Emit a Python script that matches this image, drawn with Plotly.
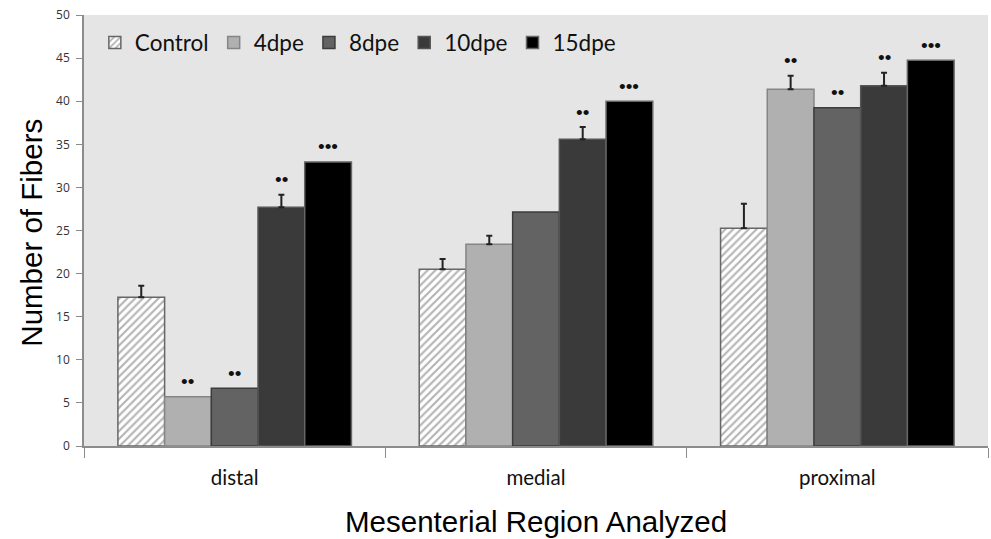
import plotly.graph_objects as go

# ---- data ----
regions = ["distal", "medial", "proximal"]
series_names = ["Control", "4dpe", "8dpe", "10dpe", "15dpe"]

control = [17.25, 20.5, 25.25]
dpe4 = [5.7, 23.4, 41.4]
dpe8 = [6.7, 27.15, 39.25]
dpe10 = [27.7, 35.6, 41.8]
dpe15 = [32.95, 40.0, 44.75]

control_err = [1.35, 1.2, 2.85]
dpe4_err = [None, 1.0, 1.55]
dpe8_err = [None, None, None]
dpe10_err = [1.45, 1.4, 1.5]
dpe15_err = [None, None, None]

control_sig = ["", "", ""]
dpe4_sig = ["**", "", "**"]
dpe8_sig = ["**", "", "**"]
dpe10_sig = ["**", "**", "**"]
dpe15_sig = ["***", "***", "***"]

y_ticks = [0, 5, 10, 15, 20, 25, 30, 35, 40, 45, 50]

# ---- styles ----
W, H = 991, 539
ML, MR, MT, MB = 84, 3, 15, 93
BARGAP = 0.225

values = [control, dpe4, dpe8, dpe10, dpe15]
errors = [control_err, dpe4_err, dpe8_err, dpe10_err, dpe15_err]
sigs = [control_sig, dpe4_sig, dpe8_sig, dpe10_sig, dpe15_sig]
fills = ["#ffffff", "#b0b0b0", "#636363", "#3a3a3a", "#000000"]
lines = ["#666666", "#858585", "#3c3c3c", "#555555", "#666666"]


def err_array(errs):
    # "NaN" strings make plotly.js skip the error bar entirely
    return [e if e is not None else "NaN" for e in errs]


fig = go.Figure()
for i, name in enumerate(series_names):
    marker = dict(color=fills[i], line=dict(color=lines[i], width=1.5))
    if i == 0:
        marker["pattern"] = dict(shape="/", fgcolor="#6a6a6a", bgcolor="#ffffff",
                                 size=5.5, solidity=0.4)
    fig.add_trace(go.Bar(
        x=regions, y=values[i], name=name, marker=marker,
        error_y=dict(type="data", symmetric=False, array=err_array(errors[i]),
                     arrayminus=["NaN"] * len(regions),
                     color="#222222", thickness=2, width=3),
    ))

# significance markers
plot_w = W - ML - MR
bar_w = plot_w / len(regions) * (1 - BARGAP) / len(series_names)
annotations = []
for i in range(len(series_names)):
    for j, reg in enumerate(regions):
        s = sigs[i][j]
        if not s:
            continue
        top = values[i][j] + (errors[i][j] or 0)
        annotations.append(dict(
            x=reg, y=top, xref="x", yref="y", text="\u2022" * len(s),
            showarrow=False, xshift=(i - 2) * bar_w, yshift=15,
            yanchor="middle", font=dict(size=19, color="#111111", family="Arial"),
        ))

annotations.append(dict(
    x=0.5, y=-0.176, xref="paper", yref="paper", yanchor="middle",
    text="Mesenterial Region Analyzed", showarrow=False,
    font=dict(size=29.5, color="#000000", family="Liberation Sans, Arial"),
))
annotations.append(dict(
    x=-0.0575, y=0.495, xref="paper", yref="paper", xanchor="center",
    text="Number of Fibers", showarrow=False, textangle=-90,
    font=dict(size=29.5, color="#000000", family="Liberation Sans, Arial"),
))

fig.update_layout(
    width=W, height=H,
    margin=dict(l=ML, r=MR, t=MT, b=MB),
    paper_bgcolor="#ffffff", plot_bgcolor="#e5e5e5",
    barmode="group", bargap=BARGAP, bargroupgap=0,
    annotations=annotations,
    legend=dict(orientation="h", x=0.012, y=0.985, xanchor="left", yanchor="top",
                bgcolor="rgba(0,0,0,0)", font=dict(size=22.5, family="Lato", color="#111111"),
                itemwidth=30, tracegroupgap=0),
    xaxis=dict(showline=True, linecolor="#8c8c8c", linewidth=1.5,
               ticks="outside", tickson="boundaries", ticklen=10, tickcolor="#8c8c8c",
               tickfont=dict(size=20.5, family="Lato", color="#111111"),
               ticklabelstandoff=13, showgrid=False, zeroline=False),
    yaxis=dict(range=[0, 50], tickvals=y_ticks, showline=True, linecolor="#8c8c8c",
               linewidth=1.5, ticks="outside", ticklen=6, tickcolor="#8c8c8c",
               tickfont=dict(size=12, family="Open Sans", color="#333333"),
               showgrid=False, zeroline=False, ticklabelstandoff=4),
    showlegend=True,
)

fig.write_html("out.html", config={"displayModeBar": False},
               post_script="document.body.style.margin='0';")
